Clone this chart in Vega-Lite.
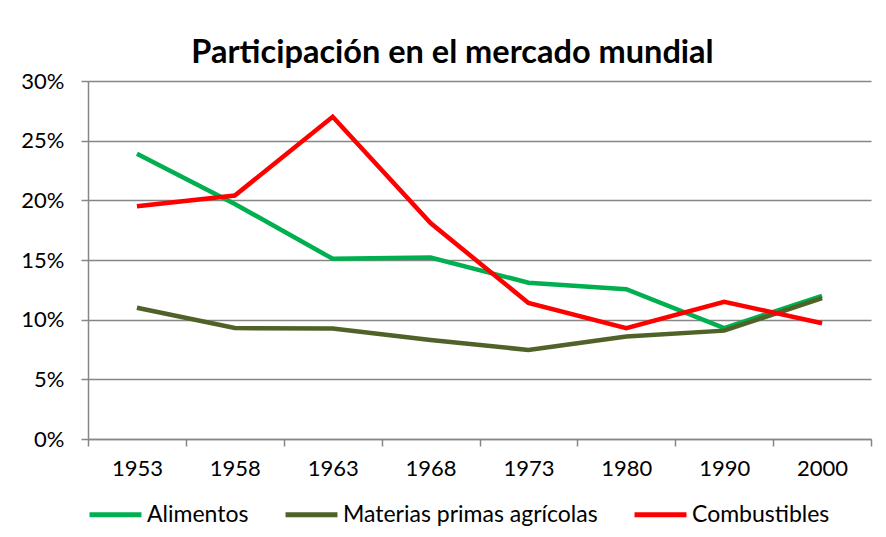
{
  "$schema": "https://vega.github.io/schema/vega-lite/v6.json",
  "width": 783,
  "height": 358,
  "autosize": "none",
  "padding": {"left": 88, "top": 81, "right": 15, "bottom": 98},
  "background": "white",
  "title": {
    "text": "Participación en el mercado mundial",
    "font": "Lato",
    "fontSize": 32.5,
    "fontWeight": "bold",
    "color": "#000000",
    "anchor": "middle",
    "dx": -27,
    "offset": 1
  },
  "config": {
    "view": {"stroke": null},
    "font": "Lato"
  },
  "data": {
    "values": [
      {"year": "1953", "serie": "Alimentos", "valor": 0.239},
      {"year": "1958", "serie": "Alimentos", "valor": 0.197},
      {"year": "1963", "serie": "Alimentos", "valor": 0.151},
      {"year": "1968", "serie": "Alimentos", "valor": 0.152},
      {"year": "1973", "serie": "Alimentos", "valor": 0.131},
      {"year": "1980", "serie": "Alimentos", "valor": 0.1255},
      {"year": "1990", "serie": "Alimentos", "valor": 0.093},
      {"year": "2000", "serie": "Alimentos", "valor": 0.12},
      {"year": "1953", "serie": "Materias primas agrícolas", "valor": 0.11},
      {"year": "1958", "serie": "Materias primas agrícolas", "valor": 0.093},
      {"year": "1963", "serie": "Materias primas agrícolas", "valor": 0.0925},
      {"year": "1968", "serie": "Materias primas agrícolas", "valor": 0.083},
      {"year": "1973", "serie": "Materias primas agrícolas", "valor": 0.0746},
      {"year": "1980", "serie": "Materias primas agrícolas", "valor": 0.0858},
      {"year": "1990", "serie": "Materias primas agrícolas", "valor": 0.0908},
      {"year": "2000", "serie": "Materias primas agrícolas", "valor": 0.118},
      {"year": "1953", "serie": "Combustibles", "valor": 0.195},
      {"year": "1958", "serie": "Combustibles", "valor": 0.204},
      {"year": "1963", "serie": "Combustibles", "valor": 0.27},
      {"year": "1968", "serie": "Combustibles", "valor": 0.181},
      {"year": "1973", "serie": "Combustibles", "valor": 0.114},
      {"year": "1980", "serie": "Combustibles", "valor": 0.0928},
      {"year": "1990", "serie": "Combustibles", "valor": 0.115},
      {"year": "2000", "serie": "Combustibles", "valor": 0.097}
    ]
  },
  "mark": {"type": "line", "strokeWidth": 4.5, "strokeJoin": "miter"},
  "encoding": {
    "x": {
      "field": "year",
      "type": "ordinal",
      "sort": null,
      "scale": {"type": "band", "paddingInner": 0, "paddingOuter": 0},
      "axis": {
        "title": null,
        "labelAngle": 0,
        "labelFont": "Lato",
        "labelFontSize": 22,
        "labelColor": "#000000",
        "labelPadding": 12,
        "tickBand": "extent",
        "tickSize": 7,
        "tickColor": "#868686",
        "tickWidth": 1.5,
        "domainColor": "#868686",
        "domainWidth": 1.5,
        "grid": false
      }
    },
    "y": {
      "field": "valor",
      "type": "quantitative",
      "scale": {"domain": [0, 0.3], "nice": false},
      "axis": {
        "title": null,
        "format": ".0%",
        "values": [0, 0.05, 0.1, 0.15, 0.2, 0.25, 0.3],
        "labelFont": "Lato",
        "labelFontSize": 22,
        "labelColor": "#000000",
        "labelPadding": 17,
        "tickSize": 7,
        "tickColor": "#868686",
        "tickWidth": 1.5,
        "domainColor": "#868686",
        "domainWidth": 1.5,
        "grid": true,
        "gridColor": "#868686",
        "gridWidth": 1.5
      }
    },
    "color": {
      "field": "serie",
      "type": "nominal",
      "sort": ["Alimentos", "Materias primas agrícolas", "Combustibles"],
      "scale": {
        "domain": ["Alimentos", "Materias primas agrícolas", "Combustibles"],
        "range": ["#00B050", "#4F6228", "#FF0000"]
      },
      "legend": {
        "title": null,
        "orient": "none",
        "direction": "horizontal",
        "legendX": -1,
        "legendY": 405,
        "symbolType": "stroke",
        "symbolSize": 2700,
        "symbolStrokeWidth": 5,
        "labelFont": "Lato",
        "labelFontSize": 23,
        "labelColor": "#000000",
        "labelOffset": 3,
        "labelLimit": 400,
        "columnPadding": 26
      }
    }
  }
}
